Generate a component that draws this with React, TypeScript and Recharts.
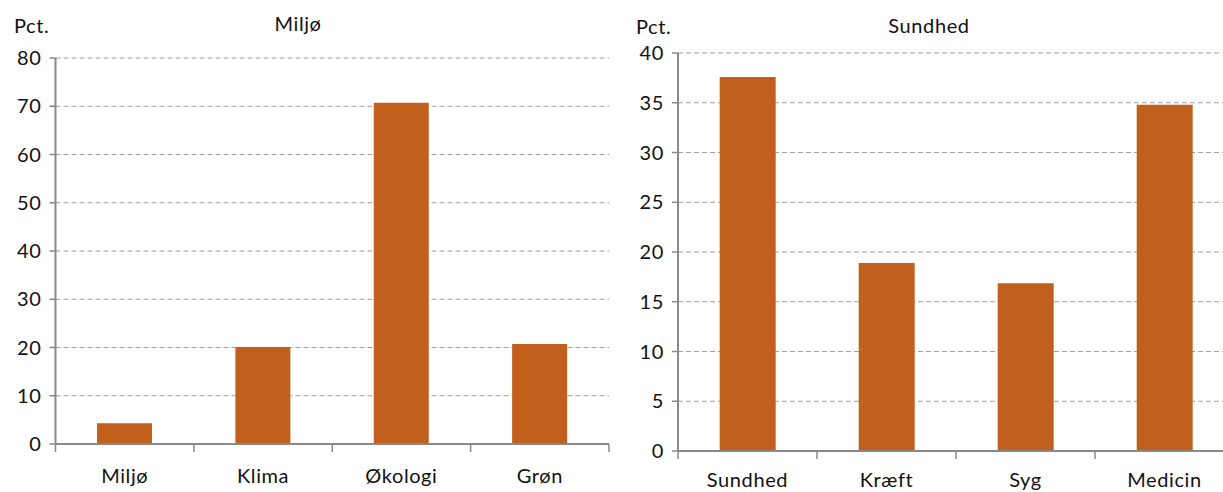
import React from "react";
import { BarChart, Bar, XAxis, YAxis, CartesianGrid } from "recharts";

const miljoCategories = ["Miljø", "Klima", "Økologi", "Grøn"];
const miljoValues = [4.3, 20.1, 70.7, 20.7];
const miljoTicks = [0, 10, 20, 30, 40, 50, 60, 70, 80];

const sundhedCategories = ["Sundhed", "Kræft", "Syg", "Medicin"];
const sundhedValues = [37.6, 18.9, 16.85, 34.8];
const sundhedTicks = [0, 5, 10, 15, 20, 25, 30, 35, 40];

const BAR = "#C0601C";
const AXIS = "#898989";
const GRID = "#A0A0A0";
const FONT = "Lato, 'Noto Sans', sans-serif";
const FS = 20;
const LS = 0.6;

const toRows = (cats: string[], vals: number[]) =>
  cats.map((name, i) => ({ name, value: vals[i] }));

// category ticks sit on the band edges, labels under the band centre
const BandTick = (props: any) => {
  const { x, y, payload, index, visibleTicksCount, width, labelDy } = props;
  const half = payload.offset ?? width / visibleTicksCount / 2;
  const axisY = y - 6;
  const last = index === visibleTicksCount - 1;
  return (
    <g>
      <line x1={x - half} x2={x - half} y1={axisY} y2={axisY + 8} stroke={AXIS} strokeWidth={1.5} />
      {last && <line x1={x + half} x2={x + half} y1={axisY} y2={axisY + 8} stroke={AXIS} strokeWidth={1.5} />}
      <text x={x} y={axisY + labelDy} textAnchor="middle" fill="#111" fontSize={FS} fontFamily={FONT} letterSpacing={LS}>
        {payload.value}
      </text>
    </g>
  );
};

const label = (text: string, left: number, top: number, center = false) => (
  <div
    style={{
      position: "absolute",
      left,
      top,
      transform: center ? "translateX(-50%)" : undefined,
      fontFamily: FONT,
      fontSize: FS,
      letterSpacing: LS,
      color: "#111",
      whiteSpace: "nowrap",
      lineHeight: "22px",
    }}
  >
    {text}
  </div>
);

const Panel = ({ data, ticks, max, left, yWidth, top, xHeight, labelDy }: any) => (
  <div style={{ position: "absolute", left, top: 0 }}>
    <BarChart
      width={620}
      height={492}
      data={data}
      margin={{ top, right: left === 0 ? 11 : 6, left: 0, bottom: 0 }}
      barCategoryGap="30%"
    >
      <CartesianGrid vertical={false} stroke={GRID} strokeWidth={1.2} strokeDasharray="5 3" />
      <XAxis
        dataKey="name"
        height={xHeight}
        axisLine={{ stroke: AXIS, strokeWidth: 2 }}
        tickLine={false}
        tickSize={0}
        tickMargin={6}
        interval={0}
        tick={<BandTick labelDy={labelDy} />}
      />
      <YAxis
        width={yWidth}
        domain={[0, max]}
        ticks={ticks}
        interval={0}
        axisLine={{ stroke: AXIS, strokeWidth: 2 }}
        tickLine={{ stroke: AXIS, strokeWidth: 1.5 }}
        tickSize={6}
        tickMargin={8}
        tick={{ fill: "#111", fontSize: FS, fontFamily: FONT, letterSpacing: LS }}
      />
      <Bar dataKey="value" fill={BAR} isAnimationActive={false} />
    </BarChart>
  </div>
);

export default function App() {
  return (
    <div
      style={{
        position: "absolute",
        left: 0,
        top: 0,
        width: 1223,
        height: 492,
        overflow: "hidden",
        background: "#fff",
      }}
    >
      <Panel
        data={toRows(miljoCategories, miljoValues)}
        ticks={miljoTicks}
        max={80}
        left={0}
        yWidth={55.5}
        top={58}
        xHeight={48}
        labelDy={39}
      />
      <Panel
        data={toRows(sundhedCategories, sundhedValues)}
        ticks={sundhedTicks}
        max={40}
        left={620}
        yWidth={58}
        top={53}
        xHeight={41}
        labelDy={36}
      />
      {label("Pct.", 14, 14)}
      {label("Miljø", 298, 12, true)}
      {label("Pct.", 636, 15)}
      {label("Sundhed", 929, 14, true)}
    </div>
  );
}
